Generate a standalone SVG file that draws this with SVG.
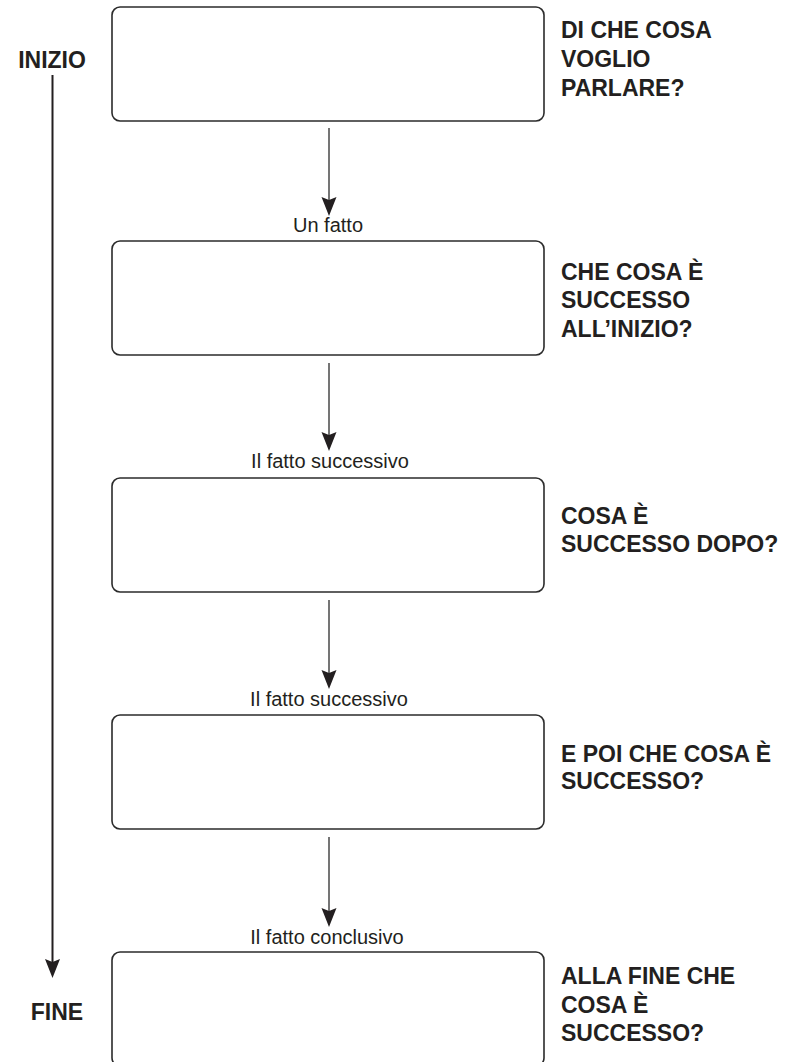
<svg xmlns="http://www.w3.org/2000/svg" width="789" height="1062" viewBox="0 0 789 1062">
<defs>
<style>
.box{fill:#fff;stroke:#2b2b2b;stroke-width:1.6}
.q{font-family:"Liberation Sans",Arial,sans-serif;font-weight:bold;font-size:23px;fill:#231f20}
.side{font-family:"Liberation Sans",Arial,sans-serif;font-weight:bold;font-size:23px;fill:#231f20;text-anchor:middle}
.lbl{font-family:"Liberation Sans",Arial,sans-serif;font-size:20px;fill:#231f20;text-anchor:middle}
.conn{stroke:#2b2b2b;stroke-width:1.3;fill:none}
.time{stroke:#231f20;stroke-width:2;fill:none}
</style>
<marker id="ah" markerUnits="userSpaceOnUse" markerWidth="22" markerHeight="16" viewBox="0 0 22 16" refX="9" refY="8" orient="auto">
<path d="M0,0.5 L19,8 L0,15.5 L3,8 Z" fill="#231f20"/>
</marker>
</defs>
<rect width="789" height="1062" fill="#fff"/>

<g id="timeline">
<text class="side" x="52" y="68">INIZIO</text>
<line class="time" x1="52.5" y1="75" x2="52.5" y2="968" marker-end="url(#ah)"/>
<text class="side" x="57" y="1020">FINE</text>
</g>

<g id="connectors">
<line class="conn" x1="329" y1="128" x2="329" y2="206" marker-end="url(#ah)"/>
<text class="lbl" x="328" y="232">Un fatto</text>
<line class="conn" x1="329" y1="363" x2="329" y2="441" marker-end="url(#ah)"/>
<text class="lbl" x="330" y="468">Il fatto successivo</text>
<line class="conn" x1="329" y1="600" x2="329" y2="679" marker-end="url(#ah)"/>
<text class="lbl" x="329" y="706">Il fatto successivo</text>
<line class="conn" x1="329" y1="837" x2="329" y2="917" marker-end="url(#ah)"/>
<text class="lbl" x="327" y="944">Il fatto conclusivo</text>
</g>

<g id="node1">
<rect class="box" x="112" y="7" width="432" height="114" rx="8"/>
<text class="q" x="561" y="38">DI CHE COSA</text>
<text class="q" x="561" y="67">VOGLIO</text>
<text class="q" x="561" y="96">PARLARE?</text>
</g>

<g id="node2">
<rect class="box" x="112" y="241" width="432" height="114" rx="8"/>
<text class="q" x="561" y="280">CHE COSA È</text>
<text class="q" x="561" y="308">SUCCESSO</text>
<text class="q" x="561" y="337">ALL’INIZIO?</text>
</g>

<g id="node3">
<rect class="box" x="112" y="478" width="432" height="114" rx="8"/>
<text class="q" x="561" y="524">COSA È</text>
<text class="q" x="561" y="552">SUCCESSO DOPO?</text>
</g>

<g id="node4">
<rect class="box" x="112" y="715" width="432" height="114" rx="8"/>
<text class="q" x="561" y="762">E POI CHE COSA È</text>
<text class="q" x="561" y="789">SUCCESSO?</text>
</g>

<g id="node5">
<rect class="box" x="112" y="952" width="432" height="114" rx="8"/>
<text class="q" x="561" y="984">ALLA FINE CHE</text>
<text class="q" x="561" y="1013">COSA È</text>
<text class="q" x="561" y="1041">SUCCESSO?</text>
</g>
</svg>
